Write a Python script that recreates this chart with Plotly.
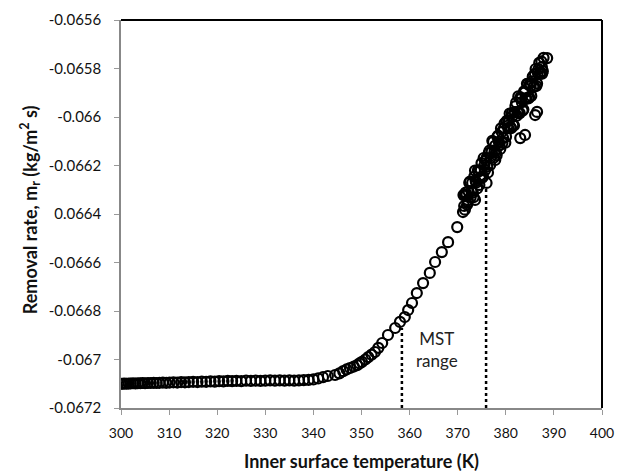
import plotly.graph_objects as go

# ---- data ----
flat_x = [300.0,300.4,300.8,301.2,301.6,302.0,302.5,303.0,303.5,304.0,304.5,305.0,305.6,306.2,306.8,307.4,
          308.0,308.7,309.4,310.1,310.9,311.7,312.5,313.3,314.1,315.0,315.9,316.8,317.7,318.6,319.5,320.4,
          321.3,322.2,323.1,324.0,325.0,326.0,327.0,328.0,329.0,330.0,331.0,332.0,333.0,334.0,335.0,336.0,
          337.0,338.0,339.0,340.0,341.0,342.0,343.0]
flat_y = [-0.067100,-0.067100,-0.067099,-0.067100,-0.067099,-0.067099,-0.067098,-0.067099,-0.067098,-0.067098,
          -0.067097,-0.067098,-0.067097,-0.067097,-0.067096,-0.067097,-0.067096,-0.067095,-0.067096,-0.067095,
          -0.067094,-0.067095,-0.067093,-0.067094,-0.067093,-0.067092,-0.067093,-0.067091,-0.067092,-0.067090,
          -0.067091,-0.067089,-0.067090,-0.067088,-0.067089,-0.067088,-0.067089,-0.067087,-0.067088,-0.067087,
          -0.067088,-0.067087,-0.067086,-0.067087,-0.067086,-0.067087,-0.067086,-0.067087,-0.067086,-0.067085,
          -0.067084,-0.067082,-0.067078,-0.067073,-0.067068]

rise_x = [344.5,345.4,346.2,346.9,347.6,348.4,349.1,349.6,350.1,350.8,351.4,352.1,352.8,353.5,354.3,355.5,
          357.0,358.0,359.0,359.7,360.5,361.5,362.8,364.2,365.3,366.7,368.0,369.9,371.1,372.1]
rise_y = [-0.067064,-0.067057,-0.067048,-0.067041,-0.067035,-0.067029,-0.067023,-0.067016,-0.067010,-0.067000,
          -0.066990,-0.066980,-0.066969,-0.066952,-0.066932,-0.066899,-0.066870,-0.066845,-0.066825,-0.066796,
          -0.066767,-0.066726,-0.066685,-0.066643,-0.066598,-0.066557,-0.066516,-0.066454,-0.066392,-0.066351]

cluster_x = [371.2,371.5,371.8,372.1,372.4,372.7,373.0,373.3,373.6,373.9,374.2,374.5,374.8,375.1,375.4,375.7,
             376.0,376.3,376.6,376.9,377.2,377.5,377.8,378.1,378.4,378.7,379.0,379.3,379.6,379.9,380.2,380.5,
             380.8,381.1,381.4,381.7,382.0,382.3,382.6,382.9,383.2,383.5,383.8,384.1,384.4,384.7,385.0,385.3,
             385.6,385.9,386.2,386.5,386.8,387.1,387.4,387.7,
             376.0,377.8,383.0,384.0,386.1,386.5,387.5,388.6,373.6,371.5]
cluster_y = [-0.066322,-0.066382,-0.066322,-0.066342,-0.066271,-0.066331,-0.066271,-0.066331,-0.066221,-0.066270,
             -0.066220,-0.066280,-0.066220,-0.066250,-0.066169,-0.066219,-0.066169,-0.066229,-0.066139,-0.066168,
             -0.066098,-0.066168,-0.066118,-0.066158,-0.066077,-0.066117,-0.066047,-0.066107,-0.066047,-0.066106,
             -0.066016,-0.066046,-0.065986,-0.066046,-0.065995,-0.066035,-0.065955,-0.065995,-0.065915,-0.065984,
             -0.065924,-0.065974,-0.065894,-0.065924,-0.065863,-0.065923,-0.065863,-0.065913,-0.065833,-0.065872,
             -0.065802,-0.065862,-0.065802,-0.065822,-0.065771,-0.065811,
             -0.066272,-0.066177,-0.066087,-0.066074,-0.065992,-0.065979,-0.065794,-0.065757,-0.066342,-0.066322]

cluster2_x = [371.35,371.65,371.95,372.25,372.55,372.85,373.15,373.45,373.75,374.05,374.35,374.65,374.95,375.25,
              375.55,375.85,376.15,376.45,376.75,377.05,377.35,377.65,377.95,378.25,378.55,378.85,379.15,379.45,
              379.75,380.05,380.35,380.65,380.95,381.25,381.55,381.85,382.15,382.45,382.75,383.05,383.35,383.65,
              383.95,384.25,384.55,384.85,385.15,385.45,385.75,386.05,386.35,386.65,386.95,387.25,387.55,387.85]
cluster2_y = [-0.066367,-0.066312,-0.066362,-0.066306,-0.066266,-0.066306,-0.066311,-0.066246,-0.066265,-0.066295,
              -0.066225,-0.066250,-0.066190,-0.066244,-0.066199,-0.066179,-0.066204,-0.066149,-0.066198,-0.066143,
              -0.066103,-0.066143,-0.066148,-0.066082,-0.066102,-0.066132,-0.066062,-0.066087,-0.066026,-0.066081,
              -0.066036,-0.066016,-0.066041,-0.065985,-0.066035,-0.065980,-0.065940,-0.065980,-0.065984,-0.065919,
              -0.065939,-0.065969,-0.065899,-0.065923,-0.065863,-0.065918,-0.065873,-0.065853,-0.065877,-0.065822,
              -0.065872,-0.065817,-0.065777,-0.065816,-0.065821,-0.065756]

mst_x = [358.4, 375.9]
mst_top = [-0.066870, -0.066290]

y_ticks = [-0.0656,-0.0658,-0.0660,-0.0662,-0.0664,-0.0666,-0.0668,-0.0670,-0.0672]
y_labels = ["-0.0656","-0.0658","-0.066","-0.0662","0.0664","-0.0666","-0.0668","-0.067","-0.0672"]
x_ticks = [300,310,320,330,340,350,360,370,380,390,400]

x_all = flat_x + rise_x + cluster_x + cluster2_x
y_all = flat_y + rise_y + cluster_y + cluster2_y

FONT = "Lato, 'Open Sans', sans-serif"

fig = go.Figure()
fig.add_trace(go.Scatter(
    x=x_all, y=y_all, mode="markers",
    marker=dict(symbol="circle-open", size=10, color="black", line=dict(width=2.2, color="black")),
    showlegend=False, hoverinfo="skip"))

for xv, yt in zip(mst_x, mst_top):
    fig.add_trace(go.Scatter(
        x=[xv, xv], y=[-0.0672, yt], mode="lines",
        line=dict(color="black", width=2.5, dash="dot"),
        showlegend=False, hoverinfo="skip"))

fig.add_annotation(x=365.6, y=-0.06696, text="MST<br>range", showarrow=False,
                   font=dict(family=FONT, size=17, color="#222"), align="center")

# axis titles
fig.add_annotation(xref="paper", yref="paper", x=0.5, y=-0.137, yanchor="middle",
                   text="<b>Inner surface temperature (K)</b>", showarrow=False,
                   font=dict(family=FONT, size=18, color="#111"))
fig.add_annotation(xref="paper", yref="paper", x=-0.189, y=0.51, xanchor="center", yanchor="middle",
                   textangle=-90, text="<b>Removal rate, m<sub>r</sub> (kg/m<sup>2</sup> s)</b>",
                   showarrow=False, font=dict(family=FONT, size=18, color="#111"))

# top and right border of plot area
fig.add_shape(type="line", xref="paper", yref="paper", x0=0, x1=1, y0=1, y1=1,
              line=dict(color="black", width=2))
fig.add_shape(type="line", xref="paper", yref="paper", x0=1, x1=1, y0=0, y1=1,
              line=dict(color="black", width=2))

fig.update_layout(
    width=629, height=473,
    margin=dict(l=121, r=27, t=20, b=65),
    plot_bgcolor="white", paper_bgcolor="white",
    font=dict(family=FONT, size=14, color="#111"),
    xaxis=dict(range=[300, 400], tickvals=x_ticks, ticks="outside", ticklen=5, tickcolor="#999",
               showline=True, linecolor="#888", linewidth=1.5, showgrid=False, zeroline=False,
               automargin=False, ticklabelstandoff=6,
               tickfont=dict(size=14, family=FONT)),
    yaxis=dict(range=[-0.0672, -0.0656], tickvals=y_ticks, ticktext=y_labels, ticks="outside", ticklen=5,
               tickcolor="#999", showline=True, linecolor="#888", linewidth=1.5, showgrid=False, zeroline=False,
               automargin=False, ticklabelstandoff=10,
               tickfont=dict(size=15, family=FONT)),
)

fig.write_html("out.html", config={"displayModeBar": False},
               post_script="document.body.style.margin='0';document.body.style.overflow='hidden';")
